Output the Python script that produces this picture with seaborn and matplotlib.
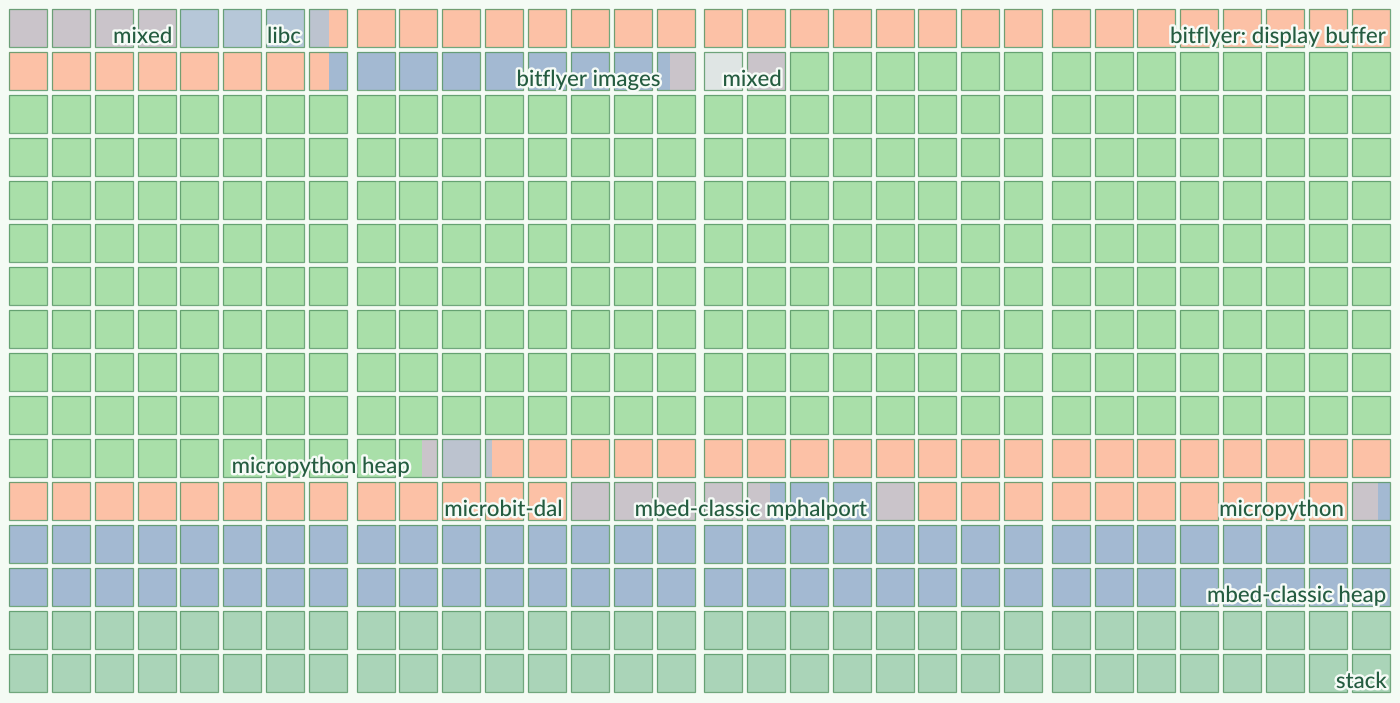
import numpy as np
import pandas as pd
import seaborn as sns
import matplotlib
matplotlib.use("Agg")
import matplotlib.pyplot as plt
import matplotlib.patheffects as pe

# ---- data: memory regions in units of 32-byte cells (row-major, 32 cells per row) ----
region_start = [0, 4, 7, 7.53, 39.53, 47.35, 48, 49, 50, 329.6, 330, 331.19,
                365, 369.6, 372, 373, 383, 383.7, 448]
region_kind = ["mixed", "libc", "mixed_b", "salmon", "blue", "mixed", "mixed_light",
               "mixed", "green", "mixed", "mixed_b", "salmon", "mixed", "blue",
               "mixed", "salmon", "mixed", "blue", "stack"]
total_cells = 512

kind_colors = {
    "salmon": "#fcc1a6",
    "blue": "#a3b9d2",
    "green": "#a9dfa9",
    "stack": "#aad4b8",
    "libc": "#b6c7d8",
    "mixed": "#cac4ca",
    "mixed_b": "#bcc3cf",
    "mixed_light": "#dfe5e4",
}

label_text = ["mixed", "libc", "bitflyer: display buffer", "bitflyer images", "mixed",
              "micropython heap", "microbit-dal", "mbed-classic mphalport",
              "micropython", "mbed-classic heap", "stack"]
label_row = [0, 0, 0, 1, 1, 10, 11, 11, 11, 13, 15]
label_end = [4, 7, 32, 15.2, 18, 9.35, 13, 20, 31, 32, 32]

# ---- layout ----
W, H = 1400, 703
x0, pitch, gap, cw = 9.0, 42.86, 4.7, 38.0
y0, rpitch, ch = 9.0, 43.0, 38.0
ncols = 32

def col_left(c):
    return x0 + c * pitch + (c // 8) * gap

def row_top(r):
    return y0 + r * rpitch

sns.set_theme(style="white")
plt.rcParams["font.family"] = ["Lato", "DejaVu Sans"]

fig = plt.figure(figsize=(W / 100, H / 100), dpi=100)
fig.patch.set_facecolor("#f4fbf4")
ax = fig.add_axes([0, 0, 1, 1])
ax.set_facecolor("#f4fbf4")
ax.set_xlim(0, W)
ax.set_ylim(H, 0)
ax.axis("off")

# build segments
rows = []
ends = region_start[1:] + [total_cells]
for s, e, k in zip(region_start, ends, region_kind):
    c = int(np.floor(s))
    while c < e:
        sf = max(s, c) - c
        ef = min(e, c + 1) - c
        if ef > sf:
            r, col = divmod(c, ncols)
            rows.append(dict(kind=k, left=col_left(col) + sf * cw, width=(ef - sf) * cw,
                             y=row_top(r) + ch / 2))
        c += 1
seg = pd.DataFrame(rows)

for k, g in seg.groupby("kind"):
    ax.barh(g["y"], g["width"], left=g["left"], height=ch, color=kind_colors[k],
            edgecolor="none", linewidth=0)

# cell outlines
cells = pd.DataFrame({"i": np.arange(total_cells)})
cells["r"] = cells["i"] // ncols
cells["c"] = cells["i"] % ncols
ax.barh(row_top(cells["r"]) + ch / 2, cw, left=[col_left(c) for c in cells["c"]],
        height=ch, fill=False, edgecolor="#5a9868", linewidth=0.9, alpha=0.85)

# labels
def end_x(e):
    c = int(np.ceil(e)) - 1
    f = e - c
    return col_left(c) + f * cw

for t, r, e in zip(label_text, label_row, label_end):
    ax.text(end_x(e) - 3, row_top(r) + 34, t, ha="right", va="baseline",
            fontsize=16, fontweight="medium", color="#245c40",
            path_effects=[pe.withStroke(linewidth=3.5, foreground="#f6fbf7")])

fig.savefig("out.png", dpi=100, facecolor=fig.get_facecolor())
